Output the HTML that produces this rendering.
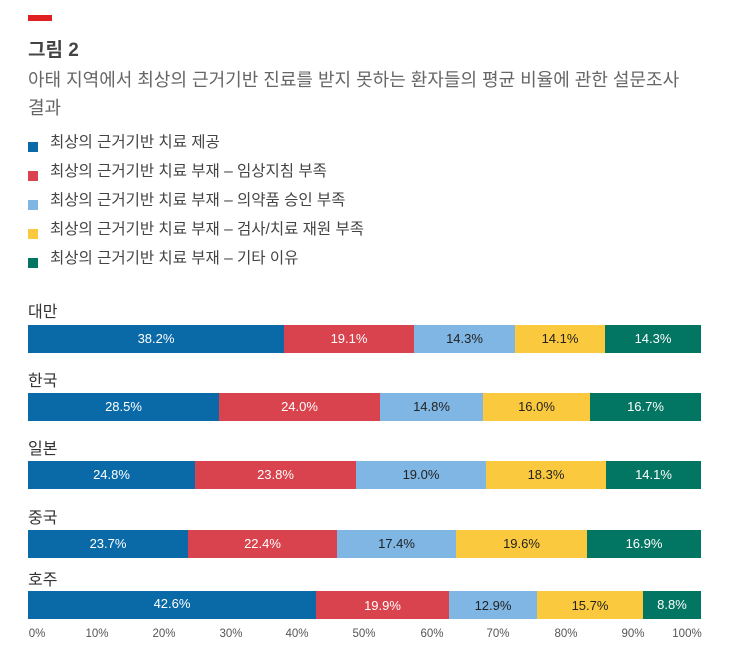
<!DOCTYPE html>
<html><head><meta charset="utf-8"><style>
body{margin:0;width:737px;height:671px;background:#fff;font-family:"Liberation Sans","Noto Sans CJK KR",sans-serif;position:relative;overflow:hidden}
.a{position:absolute;white-space:nowrap}
.sq{position:absolute;left:28px;width:10px;height:10px}
.lg{position:absolute;left:50px;font-size:15.5px;color:#444}
.seg{position:absolute;height:28px;font-size:13px;line-height:28px;text-align:center;color:#fff}
.cn{position:absolute;left:28px;font-size:16px;color:#333}
.t{position:absolute;top:628px;font-size:11.5px;color:#555;transform:translateX(-50%)}
</style></head><body>
<div class="a" style="left:28px;top:15px;width:24px;height:6px;background:#e02020"></div>
<div class="a" style="left:28px;top:35px;font-size:19px;font-weight:bold;color:#444">그림 2</div>
<div class="a" style="left:28px;top:66px;font-size:18px;color:#666">아태 지역에서 최상의 근거기반 진료를 받지 못하는 환자들의 평균 비율에 관한 설문조사</div>
<div class="a" style="left:28px;top:94px;font-size:18px;color:#666">결과</div>
<div class="sq" style="top:142px;background:#0a6aa8"></div><div class="lg" style="top:130px">최상의 근거기반 치료 제공</div>
<div class="sq" style="top:171px;background:#d9434e"></div><div class="lg" style="top:159px">최상의 근거기반 치료 부재 – 임상지침 부족</div>
<div class="sq" style="top:200px;background:#7fb6e4"></div><div class="lg" style="top:188px">최상의 근거기반 치료 부재 – 의약품 승인 부족</div>
<div class="sq" style="top:229px;background:#fbc93d"></div><div class="lg" style="top:217px">최상의 근거기반 치료 부재 – 검사/치료 재원 부족</div>
<div class="sq" style="top:258px;background:#037563"></div><div class="lg" style="top:246px">최상의 근거기반 치료 부재 – 기타 이유</div>

<div class="cn" style="top:298px">대만</div>
<div class="seg" style="top:325px;left:28px;width:256px;background:#0a6aa8">38.2%</div>
<div class="seg" style="top:325px;left:284px;width:130px;background:#d9434e">19.1%</div>
<div class="seg" style="top:325px;left:414px;width:101px;background:#7fb6e4;color:#222">14.3%</div>
<div class="seg" style="top:325px;left:515px;width:90px;background:#fbc93d;color:#222">14.1%</div>
<div class="seg" style="top:325px;left:605px;width:96px;background:#037563">14.3%</div>

<div class="cn" style="top:367px">한국</div>
<div class="seg" style="top:393px;left:28px;width:191px;background:#0a6aa8">28.5%</div>
<div class="seg" style="top:393px;left:219px;width:161px;background:#d9434e">24.0%</div>
<div class="seg" style="top:393px;left:380px;width:103px;background:#7fb6e4;color:#222">14.8%</div>
<div class="seg" style="top:393px;left:483px;width:107px;background:#fbc93d;color:#222">16.0%</div>
<div class="seg" style="top:393px;left:590px;width:111px;background:#037563">16.7%</div>

<div class="cn" style="top:435px">일본</div>
<div class="seg" style="top:461px;left:28px;width:167px;background:#0a6aa8">24.8%</div>
<div class="seg" style="top:461px;left:195px;width:161px;background:#d9434e">23.8%</div>
<div class="seg" style="top:461px;left:356px;width:130px;background:#7fb6e4;color:#222">19.0%</div>
<div class="seg" style="top:461px;left:486px;width:120px;background:#fbc93d;color:#222">18.3%</div>
<div class="seg" style="top:461px;left:606px;width:95px;background:#037563">14.1%</div>

<div class="cn" style="top:504px">중국</div>
<div class="seg" style="top:530px;left:28px;width:160px;background:#0a6aa8">23.7%</div>
<div class="seg" style="top:530px;left:188px;width:149px;background:#d9434e">22.4%</div>
<div class="seg" style="top:530px;left:337px;width:119px;background:#7fb6e4;color:#222">17.4%</div>
<div class="seg" style="top:530px;left:456px;width:131px;background:#fbc93d;color:#222">19.6%</div>
<div class="seg" style="top:530px;left:587px;width:114px;background:#037563">16.9%</div>

<div class="cn" style="top:566px">호주</div>
<div class="seg" style="top:591px;left:28px;width:288px;background:#0a6aa8;line-height:26px">42.6%</div>
<div class="seg" style="top:591px;left:316px;width:133px;background:#d9434e;line-height:30px">19.9%</div>
<div class="seg" style="top:591px;left:449px;width:88px;background:#7fb6e4;color:#222;line-height:30px">12.9%</div>
<div class="seg" style="top:591px;left:537px;width:106px;background:#fbc93d;color:#222;line-height:30px">15.7%</div>
<div class="seg" style="top:591px;left:643px;width:58px;background:#037563;line-height:28px">8.8%</div>

<div class="t" style="left:37px">0%</div>
<div class="t" style="left:97px">10%</div>
<div class="t" style="left:164px">20%</div>
<div class="t" style="left:231px">30%</div>
<div class="t" style="left:297px">40%</div>
<div class="t" style="left:364px">50%</div>
<div class="t" style="left:432px">60%</div>
<div class="t" style="left:498px">70%</div>
<div class="t" style="left:566px">80%</div>
<div class="t" style="left:633px">90%</div>
<div class="t" style="left:687px">100%</div>
</body></html>
